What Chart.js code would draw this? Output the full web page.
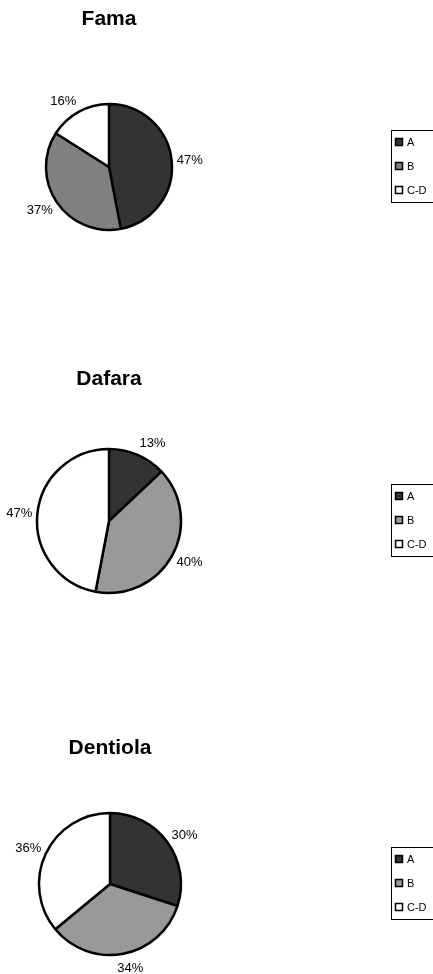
<!DOCTYPE html>
<html>
<head>
<meta charset="utf-8">
<title>Fama / Dafara / Dentiola</title>
<script src="https://cdn.jsdelivr.net/npm/chart.js@4.4.1/dist/chart.umd.min.js"></script>
<style>
    html, body { margin: 0; padding: 0; background: #fff; }
    body { width: 433px; height: 974px; position: relative; overflow: hidden; }
    canvas { position: absolute; left: 0; top: 0; }
</style>
</head>
<body>
<canvas id="fama" width="433" height="1100"></canvas>
<canvas id="dafara" width="433" height="1100"></canvas>
<canvas id="dentiola" width="433" height="1100"></canvas>

<script>
const categories = ['A', 'B', 'C-D'];
const famaValues = [47, 37, 16];
const dafaraValues = [13, 40, 47];
const dentiolaValues = [30, 34, 36];

const famaColors = ['#333333', '#808080', '#ffffff'];
const greyColors = ['#333333', '#999999', '#ffffff'];

const FONT = "'Liberation Sans', Arial, Helvetica, sans-serif";
const TITLE_SIZE = 21;
const TITLE_LH = TITLE_SIZE * 1.2;
const CANVAS_H = 1100;

// each canvas covers the page; these place title, pie and legend
const panels = [
    { id: 'fama', title: 'Fama', values: famaValues, colors: famaColors, titleY: 19, cx: 109, cy: 167, r: 63 },
    { id: 'dafara', title: 'Dafara', values: dafaraValues, colors: greyColors, titleY: 379, cx: 109, cy: 521, r: 72 },
    { id: 'dentiola', title: 'Dentiola', values: dentiolaValues, colors: greyColors, titleY: 748, cx: 110, cy: 884, r: 71 }
];

// percentage text just outside each slice
const pieLabels = {
    id: 'pieLabels',
    afterDatasetsDraw(chart) {
        const ctx = chart.ctx;
        const meta = chart.getDatasetMeta(0);
        const values = chart.data.datasets[0].data;
        ctx.save();
        ctx.font = '13px ' + FONT;
        ctx.fillStyle = '#000';
        ctx.textAlign = 'center';
        ctx.textBaseline = 'middle';
        meta.data.forEach((arc, i) => {
            const p = arc.getProps(['x', 'y', 'startAngle', 'endAngle', 'outerRadius'], true);
            const mid = (p.startAngle + p.endAngle) / 2;
            const txt = values[i] + '%';
            const w = ctx.measureText(txt).width;
            const c = Math.cos(mid), s = Math.sin(mid);
            const d = p.outerRadius + 5;
            const ax = p.x + c * d, ay = p.y + s * d;
            const kx = Math.max(-1, Math.min(1, c * 2.5));
            ctx.fillText(txt, ax + kx * w / 2, ay + s * (s > 0 ? 10 : 7));
        });
        ctx.restore();
    }
};

// boxed legend on the right, partly cut by the page edge
const boxLegend = {
    id: 'boxLegend',
    afterDraw(chart, args, opts) {
        const ctx = chart.ctx;
        const colors = chart.data.datasets[0].backgroundColor;
        const top = opts.top;
        ctx.save();
        ctx.strokeStyle = '#000';
        ctx.lineWidth = 1;
        ctx.strokeRect(391.5, top + 0.5, 80, 72);
        ctx.font = '11px ' + FONT;
        ctx.textBaseline = 'middle';
        chart.data.labels.forEach((lab, i) => {
            const y = top + 12 + i * 24;
            ctx.fillStyle = colors[i];
            ctx.fillRect(395, y - 4, 8, 8);
            ctx.lineWidth = 1.5;
            ctx.strokeRect(395.5, y - 3.5, 7, 7);
            ctx.fillStyle = '#000';
            ctx.fillText(lab, 407, y + 0.5);
        });
        ctx.restore();
    }
};

panels.forEach(p => {
    const titlePadTop = p.titleY - TITLE_LH / 2;
    const areaTop = titlePadTop + TITLE_LH;
    const bottomPad = CANVAS_H - (2 * p.cy - areaTop);

    new Chart(document.getElementById(p.id), {
        type: 'pie',
        data: {
            labels: categories,
            datasets: [{
                data: p.values,
                backgroundColor: p.colors,
                borderColor: '#000',
                borderWidth: 2.5
            }]
        },
        options: {
            responsive: false,
            animation: false,
            radius: p.r,
            layout: { padding: { left: 0, top: 0, right: 433 - 2 * p.cx, bottom: bottomPad } },
            plugins: {
                legend: { display: false },
                tooltip: { enabled: false },
                title: {
                    display: true,
                    text: p.title,
                    color: '#000',
                    font: { family: FONT, size: TITLE_SIZE, weight: 'bold' },
                    padding: { top: titlePadTop, bottom: 0 }
                },
                boxLegend: { top: p.cy - 37 }
            }
        },
        plugins: [pieLabels, boxLegend]
    });
});
</script>
</body>
</html>
